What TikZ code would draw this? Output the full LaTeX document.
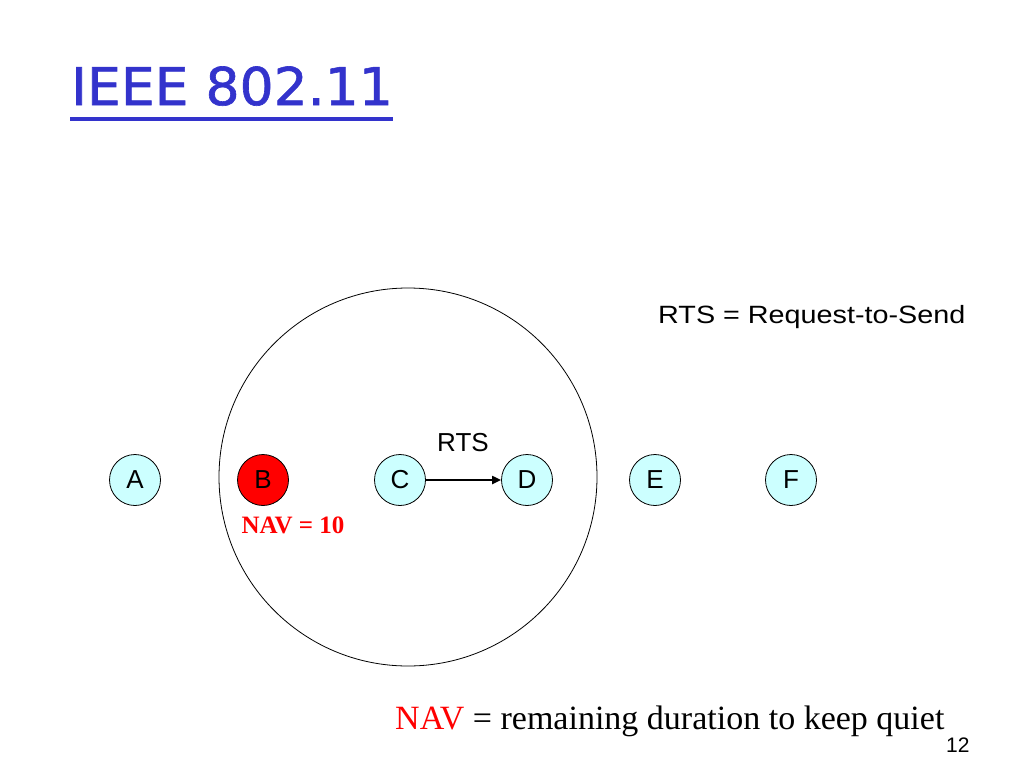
\documentclass[tikz,border=0pt]{standalone}
\usepackage{fontspec}
\setmainfont{Liberation Serif}
\setsansfont{Liberation Sans}
\newfontfamily\titlefont[FakeStretch=1.03,FakeBold=1.2]{DejaVu Sans}
\newfontfamily\widesans[FakeStretch=1.15]{Liberation Sans}
\usetikzlibrary{arrows.meta}
\definecolor{titleblue}{RGB}{51,51,204}
\definecolor{nodecyan}{RGB}{204,255,255}
\definecolor{navred}{RGB}{255,0,0}
\tikzset{
  station/.style={circle,draw=black,line width=0.8pt,fill=nodecyan,minimum size=51pt,inner sep=0pt,font=\sffamily\fontsize{26}{26}\selectfont},
  lbl/.style={inner sep=0pt,font=\sffamily\fontsize{25}{25}\selectfont}
}
\begin{document}
\begin{tikzpicture}[x=1pt,y=-1pt]
\useasboundingbox (0,0) rectangle (1024,768);
% title
\node[anchor=base west,inner sep=0pt,text=titleblue,font=\titlefont\fontsize{52}{52}\selectfont] (title) at (71,105) {IEEE 802.11};
\draw[titleblue,line width=4pt] (70,119) -- (393,119);
% range circle
\node[circle,draw=black,line width=0.8pt,minimum size=378pt,inner sep=0pt] (range) at (408,477) {};
% stations
\node[station] (A) at (135,480) {A};
\node[station,fill=navred] (B) at (263,480) {B};
\node[station] (C) at (400,480) {C};
\node[station] (D) at (527,480) {D};
\node[station] (E) at (655,480) {E};
\node[station] (F) at (791,480) {F};
\draw[-{Triangle[length=9pt,width=8pt]},line width=2pt] (C) -- (D);
\node[lbl,anchor=base,font=\sffamily\fontsize{26}{26}\selectfont] (rts) at (463,451) {RTS};
\node[lbl,anchor=base west,font=\widesans\fontsize{25}{25}\selectfont] (def) at (658,323) {RTS = Request-to-Send};
\node[anchor=base,inner sep=0pt,text=navred,font=\rmfamily\bfseries\fontsize{25}{25}\selectfont] (nav) at (293,533) {NAV = 10};
\node[anchor=base west,inner sep=0pt,font=\rmfamily\fontsize{34}{34}\selectfont] (legend) at (395,729) {\textcolor{navred}{NAV} = remaining duration to keep quiet};
\node[anchor=base west,inner sep=0pt,font=\sffamily\fontsize{21}{21}\selectfont] (page) at (946,752) {12};
\end{tikzpicture}
\end{document}
